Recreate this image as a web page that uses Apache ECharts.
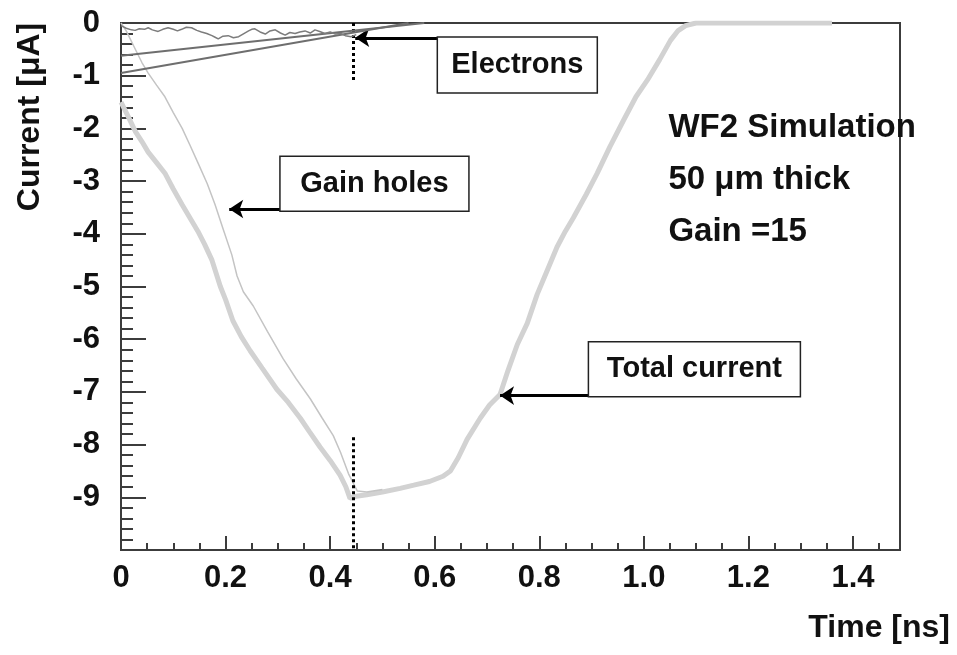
<!DOCTYPE html>
<html>
<head>
<meta charset="utf-8">
<script src="https://cdn.jsdelivr.net/npm/echarts@6/dist/echarts.min.js"></script>
<style>html,body{margin:0;padding:0;background:#fff}#c{width:957px;height:655px}</style>
</head>
<body>
<div id="c"></div>
<script>
// ---- data ----
const xTicks = [0, 0.2, 0.4, 0.6, 0.8, 1.0, 1.2, 1.4];
const yTicks = [0, -1, -2, -3, -4, -5, -6, -7, -8, -9];

const totalCurrent = [
  [0,-1.5],[0.015,-1.8],[0.027,-2.05],[0.04,-2.25],[0.052,-2.45],[0.068,-2.65],[0.084,-2.85],
  [0.1,-3.15],[0.117,-3.45],[0.132,-3.7],[0.147,-3.95],[0.16,-4.2],[0.174,-4.5],[0.19,-5.0],
  [0.2,-5.25],[0.214,-5.65],[0.23,-5.95],[0.247,-6.22],[0.27,-6.55],[0.298,-6.95],[0.32,-7.2],
  [0.343,-7.5],[0.36,-7.75],[0.381,-8.05],[0.4,-8.3],[0.419,-8.58],[0.43,-8.8],[0.438,-9.02],
  [0.45,-8.98],[0.47,-8.95],[0.5,-8.9],[0.534,-8.83],[0.56,-8.77],[0.59,-8.7],[0.616,-8.6],
  [0.63,-8.5],[0.645,-8.25],[0.662,-7.9],[0.687,-7.5],[0.705,-7.25],[0.725,-7.05],[0.74,-6.6],
  [0.758,-6.1],[0.777,-5.7],[0.796,-5.15],[0.815,-4.7],[0.834,-4.25],[0.85,-3.95],[0.865,-3.7],
  [0.89,-3.25],[0.911,-2.85],[0.935,-2.35],[0.961,-1.85],[0.985,-1.4],[1.007,-1.08],[1.03,-0.7],
  [1.051,-0.33],[1.065,-0.15],[1.08,-0.05],[1.1,0],[1.2,0],[1.36,0]
];
const gainHoles = [
  [0,0],[0.01,-0.15],[0.025,-0.45],[0.04,-0.75],[0.052,-0.95],[0.068,-1.18],[0.084,-1.4],
  [0.1,-1.7],[0.117,-2.0],[0.132,-2.32],[0.147,-2.65],[0.165,-3.05],[0.18,-3.45],[0.195,-3.9],
  [0.212,-4.4],[0.222,-4.8],[0.234,-5.1],[0.253,-5.37],[0.28,-5.85],[0.31,-6.37],[0.335,-6.75],
  [0.362,-7.13],[0.385,-7.5],[0.406,-7.83],[0.42,-8.15],[0.435,-8.55],[0.452,-8.88],[0.47,-8.9],[0.5,-8.85]
];
const electronsA = [[0,-0.62],[0.58,0]];
const electronsB = [[0,-0.95],[0.55,0]];
const electronsNoise = [
  [0,-0.05],[0.01,-0.1],[0.02,-0.13],[0.027,-0.14],[0.035,-0.11],[0.045,-0.12],[0.052,-0.09],
  [0.06,-0.13],[0.071,-0.16],[0.08,-0.12],[0.09,-0.09],[0.1,-0.12],[0.108,-0.15],[0.116,-0.12],
  [0.125,-0.08],[0.135,-0.09],[0.145,-0.14],[0.154,-0.17],[0.164,-0.2],[0.174,-0.24],[0.18,-0.27],
  [0.186,-0.3],[0.195,-0.25],[0.205,-0.24],[0.215,-0.28],[0.225,-0.26],[0.235,-0.2],[0.244,-0.15],
  [0.25,-0.12],[0.256,-0.11],[0.266,-0.17],[0.276,-0.21],[0.285,-0.15],[0.295,-0.13],[0.305,-0.19],
  [0.314,-0.23],[0.323,-0.18],[0.333,-0.2],[0.342,-0.17],[0.352,-0.15],[0.362,-0.19],[0.371,-0.13],
  [0.38,-0.16],[0.39,-0.2],[0.4,-0.17],[0.41,-0.21],[0.42,-0.2],[0.429,-0.24],[0.44,-0.26],[0.45,-0.22]
];
const markerTime = 0.444;               // dotted marker lines
const markerTopSpan = [0, -1.08];
const markerBottomSpan = [-7.86, -10];

// annotations: text, arrow tip (data), box top-left (data), box size px
const boxNotes = [
  {text:'Electrons',     tip:[0.448,-0.28], box:[0.605,-0.265], w:160, h:56},
  {text:'Gain holes',    tip:[0.207,-3.53], box:[0.304,-2.53],  w:189, h:55},
  {text:'Total current', tip:[0.725,-7.07], box:[0.894,-6.05],  w:212, h:55}
];
const infoLines = ['WF2 Simulation', '50 \u03bcm thick', 'Gain =15'];
const infoAnchor = [1.047, -1.985];

// ---- chart ----
const FONT = 'Liberation Sans, Arial, Helvetica, sans-serif';
const AX = '#3c3c3c';
const chart = echarts.init(document.getElementById('c'), null, {renderer:'canvas'});

const arrowLines = boxNotes.map(n => [{coord:[n.tip[0], n.tip[1]]}, {coord:[n.box[0], n.tip[1]]}]);
const G = {left:121, right:57, top:23, bottom:105};

chart.setOption({
  animation:false,
  backgroundColor:'#fff',
  grid:[
    Object.assign({show:true, borderColor:AX, borderWidth:2, backgroundColor:'transparent'}, G),
    Object.assign({show:false}, G)
  ],
  xAxis:[{
    gridIndex:0, type:'value', min:0, max:1.49, interval:0.2, position:'bottom',
    axisLine:{show:true, onZero:false, lineStyle:{color:AX, width:2}},
    axisTick:{show:true, inside:true, length:14, lineStyle:{color:AX, width:2}},
    splitLine:{show:false},
    axisLabel:{margin:13, fontSize:31, fontWeight:'bold', color:'#111', fontFamily:FONT,
      formatter:v => xTicks.some(t => Math.abs(t - v) < 1e-6) ? (v === 0 ? '0' : v.toFixed(1)) : ''}
  },{
    gridIndex:1, type:'value', min:0, max:1.49, interval:0.05, position:'bottom',
    axisLine:{show:false, onZero:false}, axisLabel:{show:false}, splitLine:{show:false},
    axisTick:{show:true, inside:true, length:7, lineStyle:{color:AX, width:2}}
  }],
  yAxis:[{
    gridIndex:0, type:'value', min:-10, max:0, interval:1, position:'left',
    axisLine:{show:true, onZero:false, lineStyle:{color:AX, width:2}},
    axisTick:{show:true, inside:true, length:25, lineStyle:{color:AX, width:2}},
    splitLine:{show:false},
    axisLabel:{margin:21, fontSize:31, fontWeight:'bold', color:'#111', fontFamily:FONT,
      formatter:v => yTicks.includes(v) ? String(v) : ''}
  },{
    gridIndex:1, type:'value', min:-10, max:0, interval:0.2, position:'left',
    axisLine:{show:false, onZero:false}, axisLabel:{show:false}, splitLine:{show:false},
    axisTick:{show:true, inside:true, length:12, lineStyle:{color:AX, width:2}}
  }],
  series:[
    {name:'Total current', type:'line', data:totalCurrent, showSymbol:false, symbol:'none', z:3,
     lineStyle:{color:'#d2d2d2', width:5}},
    {name:'Gain holes', type:'line', data:gainHoles, showSymbol:false, symbol:'none', z:4,
     lineStyle:{color:'#c4c4c4', width:1.5}},
    {name:'Electrons A', type:'line', data:electronsA, showSymbol:false, symbol:'none', z:5,
     lineStyle:{color:'#6e6e6e', width:2}},
    {name:'Electrons B', type:'line', data:electronsB, showSymbol:false, symbol:'none', z:5,
     lineStyle:{color:'#6e6e6e', width:2}},
    {name:'Electrons noise', type:'line', data:electronsNoise, showSymbol:false, symbol:'none', z:5,
     lineStyle:{color:'#7c7c7c', width:1.5}},
    {name:'markers', type:'line', data:[], z:6,
     markLine:{silent:true, symbol:['none','none'], label:{show:false}, animation:false,
       lineStyle:{color:'#000', width:3, type:[3,3]},
       emphasis:{disabled:true},
       data:[
         [{coord:[markerTime, markerTopSpan[0]]},{coord:[markerTime, markerTopSpan[1]]}],
         [{coord:[markerTime, markerBottomSpan[0]]},{coord:[markerTime, markerBottomSpan[1]]}]
       ]}},
    {name:'arrows', type:'line', data:[], z:7,
     markLine:{silent:true, symbol:['arrow','none'], symbolSize:14, label:{show:false}, animation:false,
       lineStyle:{color:'#000', width:3, type:'solid'},
       emphasis:{disabled:true},
       data:arrowLines}}
  ]
});

const px = p => chart.convertToPixel({gridIndex:0}, p);
const graphics = [];
boxNotes.forEach(n => {
  const p = px(n.box);
  graphics.push({type:'rect', z:100, shape:{x:p[0], y:p[1], width:n.w, height:n.h},
    style:{fill:'#fff', stroke:'#222', lineWidth:1.5}});
  graphics.push({type:'text', z:101, x:p[0] + n.w/2, y:p[1] + n.h/2,
    style:{text:n.text, font:'bold 29px ' + FONT, fill:'#111', align:'center', verticalAlign:'middle'}});
});
const ia = px(infoAnchor);
infoLines.forEach((t, i) => {
  graphics.push({type:'text', z:101, x:ia[0], y:ia[1] + i*52,
    style:{text:t, font:'bold 33px ' + FONT, fill:'#111', align:'left', verticalAlign:'middle'}});
});
graphics.push({type:'text', z:101, x:30, y:117, rotation:Math.PI/2,
  style:{text:'Current [\u03bcA]', font:'bold 32px ' + FONT, fill:'#111', align:'center', verticalAlign:'middle'}});
graphics.push({type:'text', z:101, x:950, y:628,
  style:{text:'Time [ns]', font:'bold 32px ' + FONT, fill:'#111', align:'right', verticalAlign:'middle'}});
chart.setOption({graphic:graphics});
</script>
</body>
</html>
